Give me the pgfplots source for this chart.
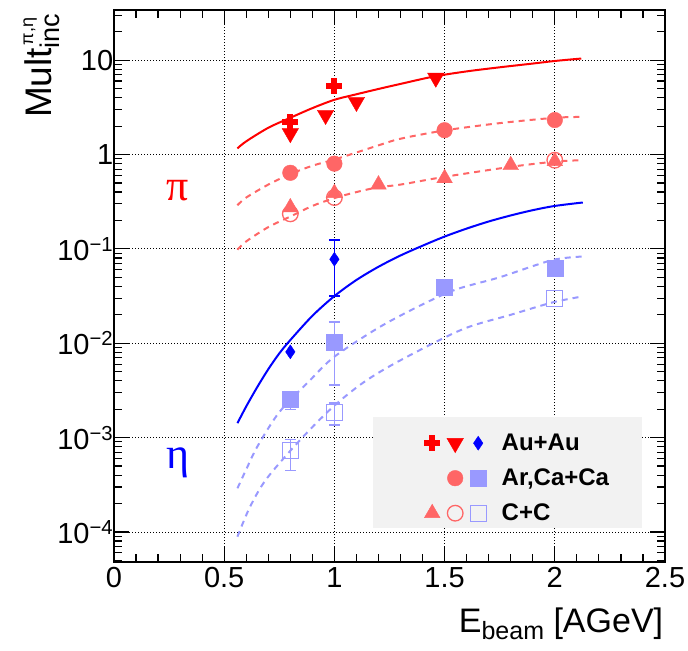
\documentclass[border=0pt]{standalone}
\usepackage{fontspec}
\setmainfont{Liberation Sans}
\newfontfamily\greekserif{Liberation Serif}
\usepackage{pgfplots}
\pgfplotsset{compat=1.18}
\definecolor{lred}{RGB}{255,102,102}
\definecolor{lblue}{RGB}{153,153,255}
\definecolor{leggray}{RGB}{242,242,242}
\begin{document}
\begin{tikzpicture}
\useasboundingbox (0,0) rectangle (688bp,651bp);
\begin{axis}[
 at={(114bp,89bp)}, anchor=south west,
 width=551bp, height=552bp, scale only axis,
 xmin=0, xmax=2.5, ymode=log, ymin=4.8e-5, ymax=34,
 xtick={0,0.5,1,1.5,2,2.5}, xticklabels={0,0.5,1,1.5,2,2.5},
 minor x tick num=4,
 ytick={1e-4,1e-3,1e-2,1e-1,1,10},
 yticklabels={10\textsuperscript{−4},10\textsuperscript{−3},10\textsuperscript{−2},10\textsuperscript{−1},1,10},
 minor ytick={5e-5,6e-5,7e-5,8e-5,9e-5,2e-4,3e-4,4e-4,5e-4,6e-4,7e-4,8e-4,9e-4,2e-3,3e-3,4e-3,5e-3,6e-3,7e-3,8e-3,9e-3,2e-2,3e-2,4e-2,5e-2,6e-2,7e-2,8e-2,9e-2,0.2,0.3,0.4,0.5,0.6,0.7,0.8,0.9,2,3,4,5,6,7,8,9,20,30},
 tick align=inside,
 major tick length=15bp, minor tick length=8bp,
 every tick/.style={black, line width=1.2bp},
 axis line style={line width=1.8bp},
 grid=major,
 major grid style={black, line width=0.8bp, dash pattern=on 1bp off 2bp},
 tick label style={font=\fontsize{29bp}{34bp}\selectfont},
 xticklabel style={yshift=-2bp},
 yticklabel style={xshift=2.7bp},
 xlabel={E\raisebox{-7bp}{\fontsize{25bp}{25bp}\selectfont beam} [AGeV]},
 xlabel style={at={(rel axis cs:1.003,-0.128)}, anchor=base east, font=\fontsize{34bp}{40bp}\selectfont},
 ylabel={Mult\rlap{\raisebox{18bp}{\fontsize{18bp}{18bp}\selectfont\,π,η}}\raisebox{-8bp}{\fontsize{27bp}{27bp}\selectfont inc}},
 ylabel style={at={(rel axis cs:-0.114,1)}, anchor=base east, font=\fontsize{37bp}{42bp}\selectfont},
 legend columns=3,
 legend cell align=left,
 legend style={at={(rel axis cs:0.5608,0.2473)}, anchor=north west, draw=none, fill=none,
   inner sep=0pt, column sep=0pt, row sep=0pt,
   font=\fontsize{24bp}{28bp}\selectfont\bfseries,
   nodes={inner xsep=2.5bp, inner ysep=0pt, minimum height=35bp, anchor=west}},
 legend image code/.code={\path[draw=none, fill=none] (-9bp,-9bp) rectangle (9bp,9bp); \draw[#1] plot coordinates {(0bp,0bp)};},
 error bars/error bar style={line width=1.5bp},
 error bars/error mark options={rotate=90, mark size=5.5bp, line width=1.5bp},
]
% curves
\addplot[red, line width=2bp, smooth, forget plot] coordinates {(0.56,1.16)(0.6,1.38)(0.7,1.92)(0.8,2.45)(0.9,3.1)(1.0,3.8)(1.1,4.35)(1.2,4.95)(1.3,5.6)(1.45,6.7)(1.6,7.6)(1.75,8.4)(1.9,9.2)(2.0,9.8)(2.12,10.4)};
\addplot[lred, line width=2bp, dash pattern=on 6bp off 5bp, smooth, forget plot] coordinates {(0.56,0.29)(0.6,0.35)(0.7,0.48)(0.8,0.62)(0.9,0.76)(1.0,0.885)(1.1,1.05)(1.2,1.25)(1.3,1.47)(1.5,1.8)(1.75,2.15)(2.0,2.45)(2.12,2.5)};
\addplot[lred, line width=2bp, dash pattern=on 6bp off 5bp, smooth, forget plot] coordinates {(0.56,0.098)(0.6,0.12)(0.7,0.17)(0.8,0.22)(0.9,0.285)(1.0,0.345)(1.1,0.40)(1.2,0.45)(1.3,0.48)(1.5,0.58)(1.8,0.74)(2.0,0.84)(2.12,0.87)};
\addplot[blue, line width=2bp, smooth, forget plot] coordinates {(0.56,1.42e-3)(0.6,2.14e-3)(0.65,3.43e-3)(0.7,5.3e-3)(0.75,7.8e-3)(0.8,0.0108)(0.9,0.0195)(1.0,0.0316)(1.1,0.0468)(1.2,0.0646)(1.3,0.0851)(1.4,0.108)(1.5,0.135)(1.6,0.164)(1.7,0.195)(1.8,0.226)(1.9,0.257)(2.0,0.285)(2.127,0.31)};
\addplot[lblue, line width=2bp, dash pattern=on 6bp off 5bp, smooth, forget plot] coordinates {(0.56,2.9e-4)(0.6,4.6e-4)(0.65,8.0e-4)(0.75,1.86e-3)(0.887,4.0e-3)(1.0,7.2e-3)(1.2,0.0146)(1.385,0.0248)(1.55,0.037)(1.75,0.050)(1.988,0.076)(2.13,0.083)};
\addplot[lblue, line width=2bp, dash pattern=on 6bp off 5bp, smooth, forget plot] coordinates {(0.56,8.9e-5)(0.615,1.8e-4)(0.69,3.6e-4)(0.842,9.3e-4)(0.992,2.1e-3)(1.136,3.9e-3)(1.3,6.6e-3)(1.58,0.014)(1.8,0.020)(1.988,0.027)(2.115,0.031)};
% data points
\addplot[lred, only marks, mark=*, mark size=7.8bp, forget plot] coordinates {(0.8,0.64)(1.0,0.80)(1.5,1.81)(2.0,2.32)};
\addplot[lred, only marks, mark=triangle*, mark size=9bp, forget plot] coordinates {(0.8,0.275)(1.0,0.39)(1.2,0.48)(1.5,0.56)(1.8,0.77)(2.0,0.85)};
\addplot[lred, only marks, mark=o, mark size=7.8bp, mark options={line width=1.3bp}, forget plot] coordinates {(0.8,0.235)(1.0,0.35)(2.0,0.87)};
\addplot[red, only marks, mark=triangle*, mark size=9.5bp, mark options={rotate=180}, forget plot] coordinates {(0.8,1.68)(0.96,2.62)(1.1,3.6)(1.46,6.5)};
\addplot[red, only marks, mark=+, mark size=8bp, mark options={line width=6bp}, forget plot] coordinates {(0.8,2.2)(1.0,5.3)};
\addplot[lblue, only marks, mark=square*, mark size=8bp, forget plot,
  error bars/.cd, y dir=both, y explicit] coordinates {(0.8,0.00258) += (0,0) -= (0,0.0006) (1.0,0.0102) +- (0,0.0066) (1.5,0.039) (2.0,0.062)};
\addplot[lblue, only marks, mark=square, mark size=8bp, mark options={line width=1.3bp}, forget plot,
  error bars/.cd, y dir=both, y explicit] coordinates {(0.8,7.3e-4) += (0,2.2e-4) -= (0,2.8e-4) (1.0,1.84e-3) +- (0,0.48e-3) (2.0,0.030)};
\addplot[blue, only marks, mark=diamond*, mark size=7bp, mark options={xscale=0.9}, forget plot,
  error bars/.cd, y dir=both, y explicit] coordinates {(0.8,0.0081) (1.0,0.0776) +- (0,0.046)};
% labels
\node[text=red, font=\greekserif\fontsize{44bp}{50bp}\selectfont] at (axis cs:0.289,0.41) {π};
\node[text=blue, font=\greekserif\fontsize{44bp}{50bp}\selectfont] at (axis cs:0.289,5.4e-4) {η};
% legend box
\fill[leggray] (rel axis cs:0.470,0.0616) rectangle (rel axis cs:0.958,0.2627);
% legend entries
\addlegendimage{only marks, red, mark=+, mark size=8bp, mark options={line width=6bp}}
\addlegendentry{}
\addlegendimage{only marks, red, mark=triangle*, mark size=9.5bp, mark options={rotate=180}}
\addlegendentry{}
\addlegendimage{only marks, blue, mark=diamond*, mark size=7bp, mark options={xscale=0.9}}
\addlegendentry{\hspace{12bp}Au+Au}
\addlegendimage{draw=none, mark=none}
\addlegendentry{}
\addlegendimage{only marks, lred, mark=*, mark size=7.8bp}
\addlegendentry{}
\addlegendimage{only marks, lblue, mark=square*, mark size=8bp}
\addlegendentry{\hspace{12bp}Ar,Ca+Ca}
\addlegendimage{only marks, lred, mark=triangle*, mark size=9bp}
\addlegendentry{}
\addlegendimage{only marks, lred, mark=o, mark size=7.8bp, mark options={line width=1.3bp}}
\addlegendentry{}
\addlegendimage{only marks, lblue, mark=square, mark size=8bp, mark options={line width=1.3bp}}
\addlegendentry{\hspace{12bp}C+C}
\end{axis}
\end{tikzpicture}
\end{document}
